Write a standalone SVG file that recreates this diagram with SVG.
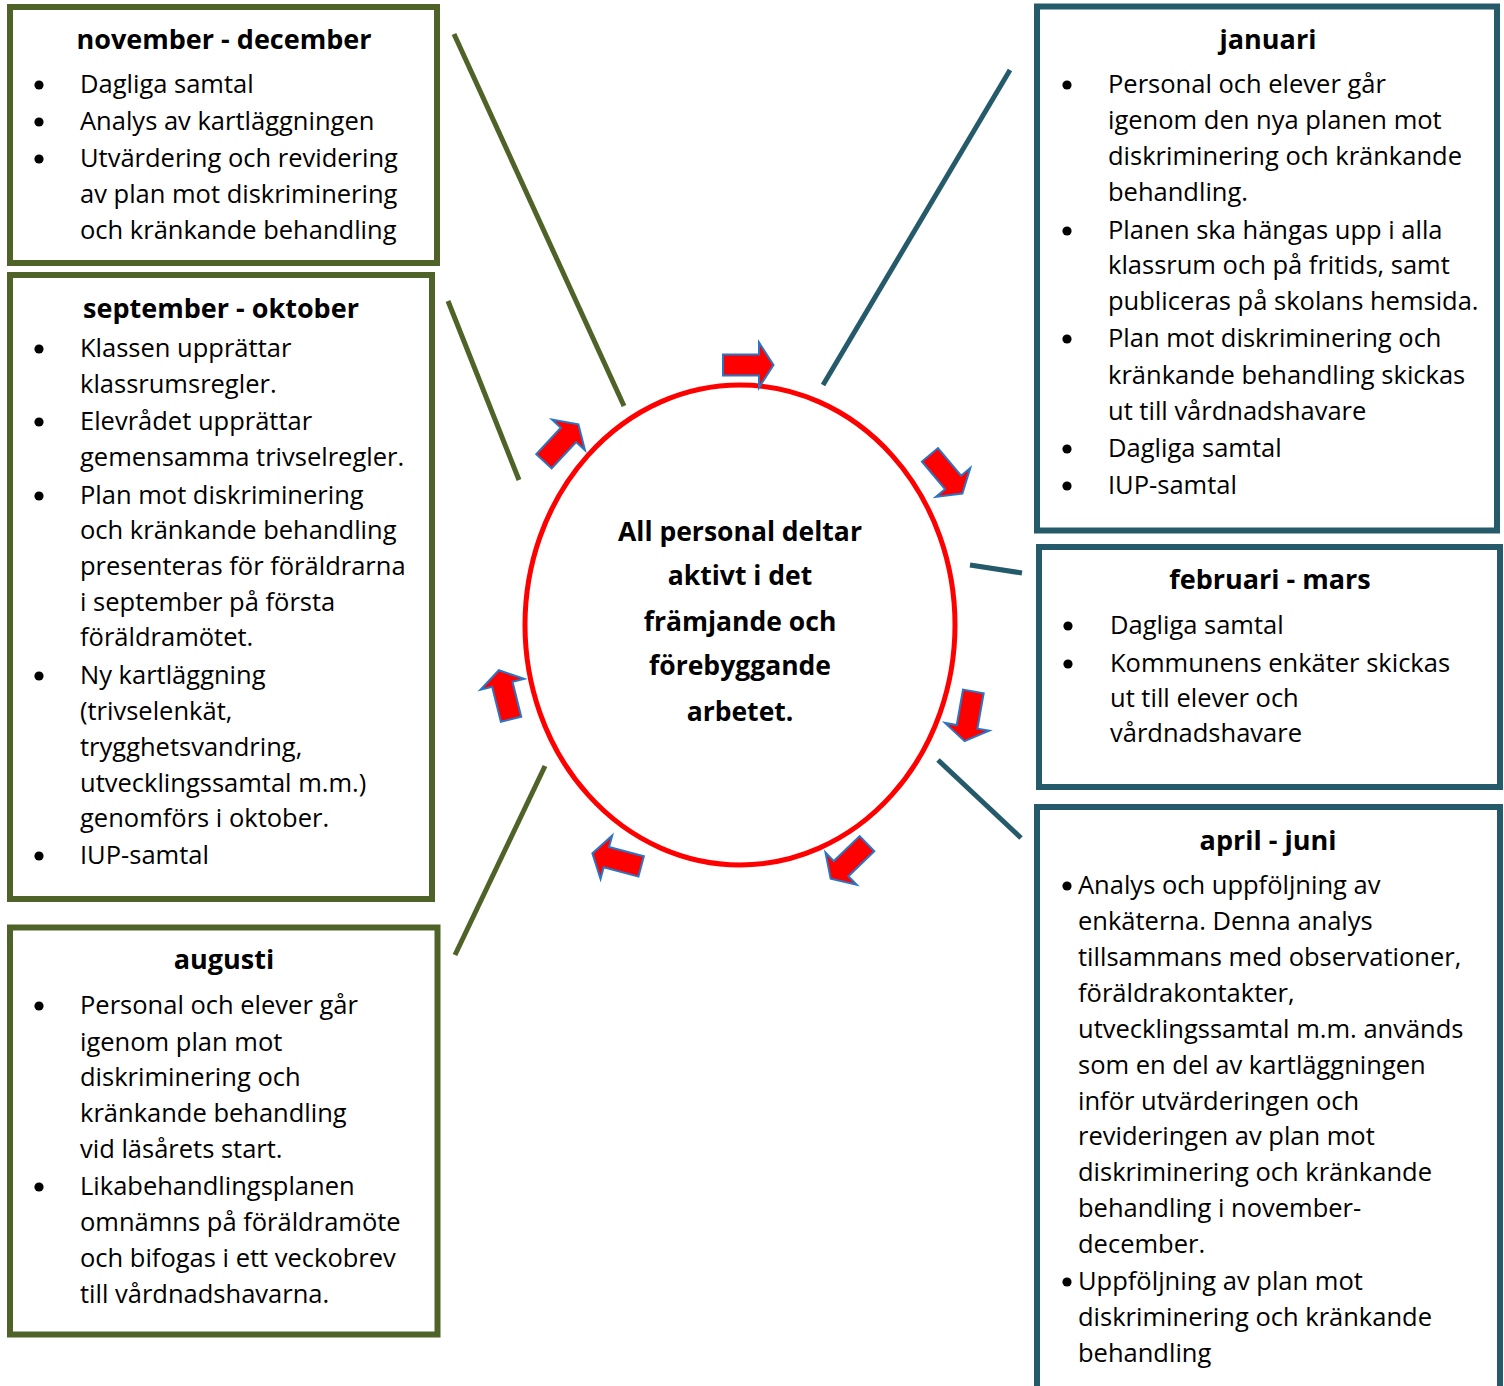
<svg xmlns="http://www.w3.org/2000/svg" xmlns:xlink="http://www.w3.org/1999/xlink" width="1504" height="1386" viewBox="0 0 1504 1386">
<style>
.bg{fill:#ffffff}
.gbox{fill:#ffffff;stroke:#4F6228;stroke-width:6}
.tbox{fill:#ffffff;stroke:#245A69;stroke-width:6}
.gline{stroke:#4F6228;stroke-width:5;fill:none}
.tline{stroke:#245A69;stroke-width:5;fill:none}
text{font-family:"Open Sans","Noto Sans","DejaVu Sans",sans-serif;font-size:25.5px;fill:#000000}
.t{font-weight:bold;text-anchor:middle;font-size:27px}
.c{font-weight:bold;text-anchor:middle;font-size:26.5px}
.b{fill:#000000}
.arrow{fill:#FF0000;stroke:#2A76C6;stroke-width:2;stroke-linejoin:miter}
.ring{fill:#ffffff;stroke:#FF0000;stroke-width:5}
</style>
<defs>
<path id="arw" d="M-25,-10.5 H11 V-22.5 L25.5,0 L11,22.5 V10.5 H-25 Z"/>
</defs>
<rect class="bg" x="0" y="0" width="1504" height="1386"/>

<g id="connectors">
<line class="gline" x1="454" y1="34" x2="624" y2="406"/>
<line class="gline" x1="448" y1="301" x2="519" y2="480"/>
<line class="gline" x1="545" y1="766" x2="455" y2="955"/>
<line class="tline" x1="1010" y1="70" x2="823" y2="385"/>
<line class="tline" x1="970" y1="565" x2="1022" y2="573"/>
<line class="tline" x1="938" y1="760" x2="1021" y2="838"/>
</g>

<g id="center">
<ellipse class="ring" cx="740" cy="625" rx="215" ry="240"/>
<text class="c" x="740" y="541">All personal deltar</text>
<text class="c" x="740" y="585">aktivt i det</text>
<text class="c" x="740" y="631">främjande och</text>
<text class="c" x="740" y="675">förebyggande</text>
<text class="c" x="740" y="721">arbetet.</text>
</g>

<g id="arrows">
<use xlink:href="#arw" class="arrow" transform="translate(748,365) rotate(0)"/>
<use xlink:href="#arw" class="arrow" transform="translate(946,474) rotate(50)"/>
<use xlink:href="#arw" class="arrow" transform="translate(969,716) rotate(100)"/>
<use xlink:href="#arw" class="arrow" transform="translate(849,861) rotate(136)"/>
<use xlink:href="#arw" class="arrow" transform="translate(617,860) rotate(195)"/>
<use xlink:href="#arw" class="arrow" transform="translate(505,695) rotate(256)"/>
<use xlink:href="#arw" class="arrow" transform="translate(561,443) rotate(-47)"/>
</g>

<g id="nov-dec">
<rect class="gbox" x="10" y="7" width="427" height="256"/>
<text class="t" x="224" y="49">november - december</text>
<circle class="b" cx="39" cy="85" r="4.6"/>
<circle class="b" cx="39" cy="122" r="4.6"/>
<circle class="b" cx="39" cy="159" r="4.6"/>
<text x="80" y="93">Dagliga samtal</text>
<text x="80" y="130">Analys av kartläggningen</text>
<text x="80" y="167">Utvärdering och revidering</text>
<text x="80" y="203">av plan mot diskriminering</text>
<text x="80" y="239">och kränkande behandling</text>
</g>

<g id="sep-okt">
<rect class="gbox" x="10" y="275" width="422" height="624"/>
<text class="t" x="221" y="318">september - oktober</text>
<circle class="b" cx="39" cy="349" r="4.6"/>
<circle class="b" cx="39" cy="422" r="4.6"/>
<circle class="b" cx="39" cy="496" r="4.6"/>
<circle class="b" cx="39" cy="676" r="4.6"/>
<circle class="b" cx="39" cy="856" r="4.6"/>
<text x="80" y="357">Klassen upprättar</text>
<text x="80" y="393">klassrumsregler.</text>
<text x="80" y="430">Elevrådet upprättar</text>
<text x="80" y="466">gemensamma trivselregler.</text>
<text x="80" y="504">Plan mot diskriminering</text>
<text x="80" y="539">och kränkande behandling</text>
<text x="80" y="575">presenteras för föräldrarna</text>
<text x="80" y="611">i september på första</text>
<text x="80" y="646">föräldramötet.</text>
<text x="80" y="684">Ny kartläggning</text>
<text x="80" y="720">(trivselenkät,</text>
<text x="80" y="756">trygghetsvandring,</text>
<text x="80" y="792">utvecklingssamtal m.m.)</text>
<text x="80" y="827">genomförs i oktober.</text>
<text x="80" y="864">IUP-samtal</text>
</g>

<g id="augusti">
<rect class="gbox" x="10" y="927.5" width="427.5" height="407"/>
<text class="t" x="224" y="969">augusti</text>
<circle class="b" cx="39" cy="1006" r="4.6"/>
<circle class="b" cx="39" cy="1187" r="4.6"/>
<text x="80" y="1014">Personal och elever går</text>
<text x="80" y="1051">igenom plan mot</text>
<text x="80" y="1086">diskriminering och</text>
<text x="80" y="1122">kränkande behandling</text>
<text x="80" y="1158">vid läsårets start.</text>
<text x="80" y="1195">Likabehandlingsplanen</text>
<text x="80" y="1231">omnämns på föräldramöte</text>
<text x="80" y="1267">och bifogas i ett veckobrev</text>
<text x="80" y="1303">till vårdnadshavarna.</text>
</g>

<g id="januari">
<rect class="tbox" x="1037" y="6.5" width="460" height="524"/>
<text class="t" x="1268" y="49">januari</text>
<circle class="b" cx="1067" cy="85" r="4.6"/>
<circle class="b" cx="1067" cy="231" r="4.6"/>
<circle class="b" cx="1067" cy="339" r="4.6"/>
<circle class="b" cx="1067" cy="449" r="4.6"/>
<circle class="b" cx="1067" cy="486" r="4.6"/>
<text x="1108" y="93">Personal och elever går</text>
<text x="1108" y="129">igenom den nya planen mot</text>
<text x="1108" y="165">diskriminering och kränkande</text>
<text x="1108" y="201">behandling.</text>
<text x="1108" y="239">Planen ska hängas upp i alla</text>
<text x="1108" y="274">klassrum och på fritids, samt</text>
<text x="1108" y="310">publiceras på skolans hemsida.</text>
<text x="1108" y="347">Plan mot diskriminering och</text>
<text x="1108" y="384">kränkande behandling skickas</text>
<text x="1108" y="420">ut till vårdnadshavare</text>
<text x="1108" y="457">Dagliga samtal</text>
<text x="1108" y="494">IUP-samtal</text>
</g>

<g id="februari-mars">
<rect class="tbox" x="1039" y="547" width="461" height="240"/>
<text class="t" x="1270" y="589">februari - mars</text>
<circle class="b" cx="1068" cy="626" r="4.6"/>
<circle class="b" cx="1068" cy="664" r="4.6"/>
<text x="1110" y="634">Dagliga samtal</text>
<text x="1110" y="672">Kommunens enkäter skickas</text>
<text x="1110" y="707">ut till elever och</text>
<text x="1110" y="742">vårdnadshavare</text>
</g>

<g id="april-juni">
<rect class="tbox" x="1037" y="807" width="463" height="600"/>
<text class="t" x="1268" y="850">april - juni</text>
<circle class="b" cx="1067" cy="886" r="4.6"/>
<circle class="b" cx="1067" cy="1282" r="4.6"/>
<text x="1078" y="894">Analys och uppföljning av</text>
<text x="1078" y="930">enkäterna. Denna analys</text>
<text x="1078" y="966">tillsammans med observationer,</text>
<text x="1078" y="1002">föräldrakontakter,</text>
<text x="1078" y="1038">utvecklingssamtal m.m. används</text>
<text x="1078" y="1074">som en del av kartläggningen</text>
<text x="1078" y="1110">inför utvärderingen och</text>
<text x="1078" y="1145">revideringen av plan mot</text>
<text x="1078" y="1181">diskriminering och kränkande</text>
<text x="1078" y="1217">behandling i november-</text>
<text x="1078" y="1253">december.</text>
<text x="1078" y="1290">Uppföljning av plan mot</text>
<text x="1078" y="1326">diskriminering och kränkande</text>
<text x="1078" y="1362">behandling</text>
</g>
</svg>
